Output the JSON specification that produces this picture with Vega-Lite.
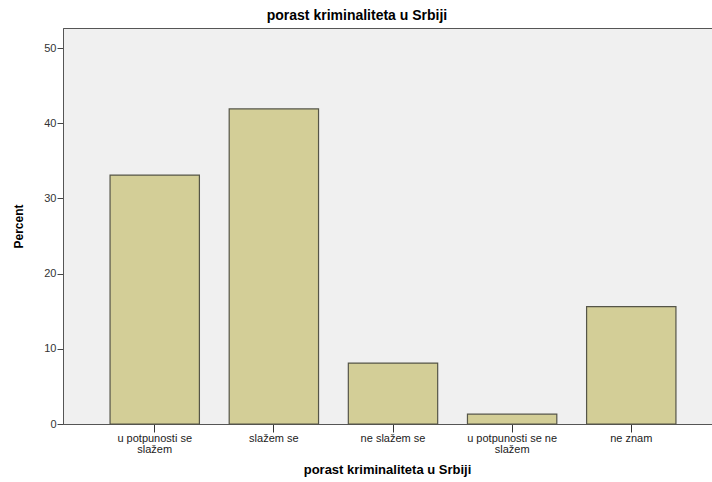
{
  "$schema": "https://vega.github.io/schema/vega-lite/v6.json",
  "autosize": "none",
  "width": 660,
  "height": 396,
  "padding": {"left": 63, "top": 28, "right": 0, "bottom": 58},
  "background": "white",
  "config": {
    "view": {"fill": "#f0f0f0", "stroke": "#555555", "strokeWidth": 1},
    "font": "Liberation Sans"
  },
  "title": {
    "text": "porast kriminaliteta u Srbiji",
    "fontSize": 14,
    "fontWeight": "bold",
    "font": "Liberation Sans",
    "color": "#000000",
    "anchor": "middle",
    "frame": "group",
    "dx": -36,
    "offset": 5
  },
  "data": {
    "values": [
      {"odgovor": "u potpunosti se slažem", "percent": 33.1},
      {"odgovor": "slažem se", "percent": 41.9},
      {"odgovor": "ne slažem se", "percent": 8.1},
      {"odgovor": "u potpunosti se ne slažem", "percent": 1.3},
      {"odgovor": "ne znam", "percent": 15.6}
    ]
  },
  "mark": {"type": "bar", "fill": "#d3ce97", "stroke": "#555548", "strokeWidth": 1.2},
  "encoding": {
    "x": {
      "field": "odgovor",
      "type": "nominal",
      "sort": null,
      "scale": {"paddingInner": 0.25, "paddingOuter": 0.395},
      "axis": {
        "title": "porast kriminaliteta u Srbiji",
        "titleFontSize": 13,
        "titleFontWeight": "bold",
        "titleColor": "#000000",
        "titlePadding": 9,
        "titleX": 324,
        "labelAngle": 0,
        "labelFontSize": 11,
        "labelColor": "#222222",
        "labelLineHeight": 11,
        "labelPadding": 0,
        "labelExpr": "datum.value == 'u potpunosti se slažem' ? ['u potpunosti se', 'slažem'] : datum.value == 'u potpunosti se ne slažem' ? ['u potpunosti se ne', 'slažem'] : datum.value",
        "tickSize": 8,
        "tickColor": "#333333",
        "domainColor": "#555555",
        "grid": false
      }
    },
    "y": {
      "field": "percent",
      "type": "quantitative",
      "scale": {"domain": [0, 52.66], "nice": false},
      "axis": {
        "title": "Percent",
        "titleFontSize": 12,
        "titleFontWeight": "bold",
        "titleColor": "#000000",
        "titlePadding": 18,
        "values": [0, 10, 20, 30, 40, 50],
        "labelFontSize": 11,
        "labelColor": "#333333",
        "labelPadding": 1,
        "tickSize": 6,
        "tickColor": "#444444",
        "domainColor": "#555555",
        "grid": false
      }
    }
  }
}
